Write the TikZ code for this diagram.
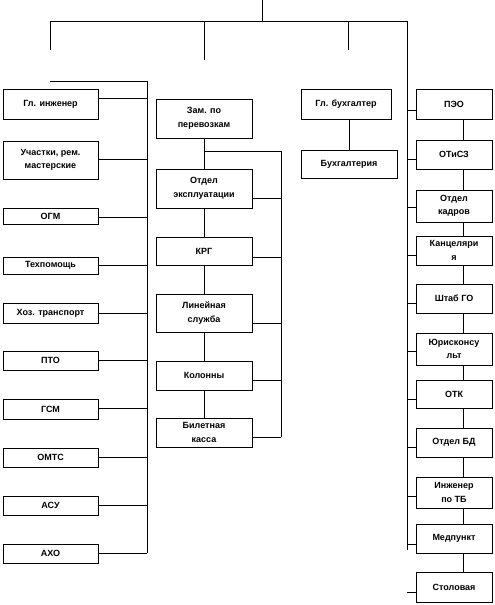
\documentclass[tikz,border=0pt]{standalone}
\usepackage{fontspec}
\setmainfont{Liberation Sans}
\usetikzlibrary{positioning}

\begin{document}
\begin{tikzpicture}[x=1pt, y=-1pt, line width=0.8pt,
  box/.style={draw, align=center, inner sep=1pt, font=\fontsize{9}{13.5}\selectfont\bfseries},
  lbox/.style={box, minimum width=95pt},
  mbox/.style={box, minimum width=96pt},
  rbox/.style={box, minimum width=76pt}]
\useasboundingbox (0,0) rectangle (495,605);

% left column
\node[lbox, minimum height=30pt] (gi) at (50.5,104) {Гл. инженер};
\node[lbox, minimum height=38pt] (uch) at (50.5,160) {Участки, рем.\\мастерские};
\node[lbox, minimum height=16pt] (ogm) at (50.5,216) {ОГМ};
\node[lbox, minimum height=17pt] (tech) at (50.5,265.5) {Техпомощь};
\node[lbox, minimum height=20pt] (hoz) at (50.5,313) {Хоз. транспорт};
\node[lbox, minimum height=19pt] (pto) at (50.5,360.5) {ПТО};
\node[lbox, minimum height=20pt] (gsm) at (50.5,409) {ГСМ};
\node[lbox, minimum height=19pt] (omts) at (50.5,457.5) {ОМТС};
\node[lbox, minimum height=19pt] (asu) at (50.5,505.5) {АСУ};
\node[lbox, minimum height=19pt] (aho) at (50.5,553.5) {АХО};

% middle column
\node[mbox, minimum height=39pt] (zam) at (204,118.5) {Зам. по\\перевозкам};
\node[mbox, minimum height=39pt] (oe) at (204,188.5) {Отдел\\эксплуатации};
\node[mbox, minimum height=28pt] (krg) at (204,251) {КРГ};
\node[mbox, minimum height=38pt] (lin) at (204,313) {Линейная\\служба};
\node[mbox, minimum height=29pt] (kol) at (204,375.5) {Колонны};
\node[mbox, minimum height=29pt] (bil) at (204,432.5) {Билетная\\касса};

% bookkeeping
\node[box, minimum width=90pt, minimum height=30pt] (glb) at (346,104) {Гл. бухгалтер};
\node[box, minimum width=96pt, minimum height=28pt] (buh) at (349,164) {Бухгалтерия};

% right column
\node[rbox, minimum height=30pt] (peo) at (454,104) {ПЭО};
\node[rbox, minimum height=29pt] (otisz) at (454,154.5) {ОТиСЗ};
\node[rbox, minimum height=32pt] (ok) at (454,206) {Отдел\\кадров};
\node[rbox, minimum height=29pt] (kanc) at (454,250.5) {Канцеляри\\я};
\node[rbox, minimum height=29pt] (shtab) at (454,298.5) {Штаб ГО};
\node[rbox, minimum height=32pt] (yur) at (454,349) {Юрисконсу\\льт};
\node[rbox, minimum height=28pt] (otk) at (454,394) {ОТК};
\node[rbox, minimum height=29pt] (obd) at (454,442.5) {Отдел БД};
\node[rbox, minimum height=31pt] (itb) at (454,492.5) {Инженер\\по ТБ};
\node[rbox, minimum height=29pt] (med) at (454,538.5) {Медпункт};
\node[rbox, minimum height=30pt] (stol) at (454,587) {Столовая};

% top branches
\coordinate (top) at (262,0);
\coordinate (tl) at (50,21);
\coordinate (tr) at (407,21);
\draw (top) -- (top |- tl);
\draw (tl) -- (tr);
\draw (tl) -- ++(0,29);
\draw (204,21) -- (204,60);
\draw (348,21) -- (348,50);

% left bus
\coordinate (lbt) at (147,81);
\coordinate (lbb) at (147,553);
\draw (50,81) -- (lbt) -- (lbb);
\foreach \n/\y in {gi/98, uch/159, ogm/217, tech/265, hoz/313, pto/360, gsm/408, omts/457, asu/505, aho/553}
  \draw (\n.east |- 0,\y) -- (lbt |- 0,\y);

% middle bus
\coordinate (mbt) at (281,151);
\coordinate (mbb) at (281,437);
\draw (zam.south) -- (oe.north);
\draw (oe.south) -- (krg.north);
\draw (krg.south) -- (lin.north);
\draw (lin.south) -- (kol.north);
\draw (kol.south) -- (bil.north);
\draw (zam.south |- mbt) -- (mbt) -- (mbb);
\foreach \n/\y in {oe/198, krg/257, lin/323, kol/380, bil/437}
  \draw (\n.east |- 0,\y) -- (mbt |- 0,\y);

% bookkeeping
\draw (glb.south -| buh.north) -- (buh.north);

% right bus
\coordinate (rbb) at (407,550);
\draw (tr) -- (rbb);
\foreach \a/\b in {peo/otisz, otisz/ok, ok/kanc, kanc/shtab, shtab/yur, yur/otk, otk/obd, obd/itb, itb/med, med/stol}
  \draw ([xshift=9pt]\a.south) -- ([xshift=9pt]\b.north);
\foreach \n/\y in {peo/110, otisz/159, ok/207, kanc/255, shtab/303, yur/351, otk/399, obd/447, itb/496, med/544}
  \draw (\n.west |- 0,\y) -- (rbb |- 0,\y);
\draw (stol.west |- 0,592) -- (rbb |- 0,592);
\end{tikzpicture}
\end{document}
